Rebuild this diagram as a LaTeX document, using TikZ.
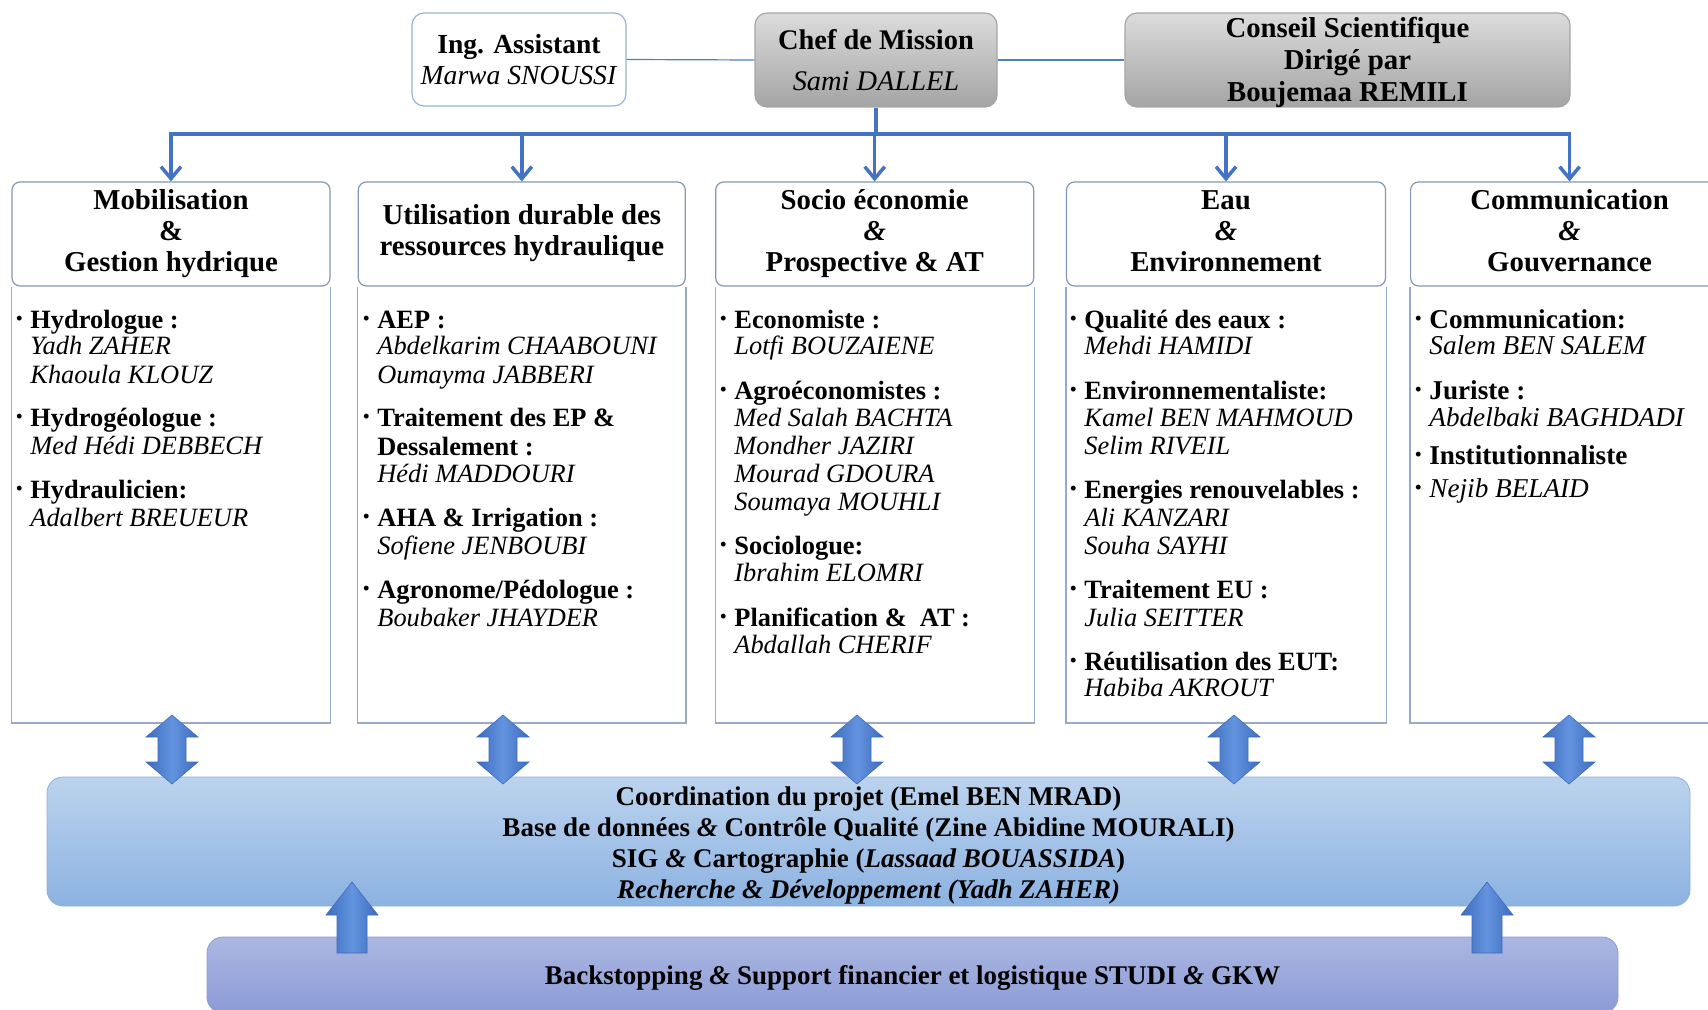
\documentclass[tikz,border=0pt]{standalone}
\usepackage{fontspec}
\setmainfont{Liberation Serif}
\usetikzlibrary{arrows.meta}

\definecolor{busblue}{HTML}{4472C4}
\definecolor{linkblue}{HTML}{4F81BD}
\definecolor{ingedge}{HTML}{95B3D7}
\definecolor{grayedge}{HTML}{A6A6A6}
\definecolor{graytop}{HTML}{DCDCDC}
\definecolor{graybot}{HTML}{A4A4A4}
\definecolor{hdredge}{HTML}{8497B4}
\definecolor{bodyedge}{HTML}{98AAC6}
\definecolor{coordtop}{HTML}{BCD3EE}
\definecolor{coordbot}{HTML}{8CB2E1}
\definecolor{coordedge}{HTML}{8FB0DA}
\definecolor{basetop}{HTML}{ABB7E2}
\definecolor{basebot}{HTML}{8B9BD6}
\definecolor{baseedge}{HTML}{8C9BD2}
\definecolor{arrdark}{HTML}{3D6CBE}
\definecolor{arrlight}{HTML}{6394DE}

% bullet hanging to the left of a list entry
\newcommand\bul{\llap{{\fontsize{15}{15}\selectfont\bfseries ·}\hspace{3pt}}}

\begin{document}
\begin{tikzpicture}[x=0.5pt,y=-0.5pt,
  topbox/.style={rounded corners=6pt, align=center, inner sep=0pt, line width=0.6pt},
  hdr/.style={draw=hdredge, rounded corners=4pt, fill=white, align=center, inner sep=0pt,
    line width=0.6pt, minimum height=52pt, font=\bfseries\fontsize{14.4}{15.5}\selectfont},
  bodyframe/.style={draw=bodyedge, line width=0.6pt},
  busline/.style={draw=busblue, line width=1.75pt},
  bustip/.style={-{Straight Barb[length=6pt,width=10pt]}},
  link/.style={draw=linkblue, line width=0.6pt},
  bodytxt/.style={anchor=base west, inner sep=0pt, font=\fontsize{13.2}{15}\selectfont},
  blockarrow/.style={left color=arrdark, right color=arrdark, middle color=arrlight,
    draw=arrdark, line width=0.3pt},
  updown/.pic={\shade[blockarrow] (0,-34.5) -- (26,-12.5) -- (14,-12.5) -- (14,12.5)
    -- (26,12.5) -- (0,34.5) -- (-26,12.5) -- (-14,12.5) -- (-14,-12.5) -- (-26,-12.5) -- cycle;},
  uparrow/.pic={\shade[blockarrow] (0,0) -- (26,33) -- (15,33) -- (15,71) -- (-15,71)
    -- (-15,33) -- (-26,33) -- cycle;}
]
\useasboundingbox (0,0) rectangle (1708,1010);
\clip (0,0) rectangle (1708,1010);
\fill[white] (0,0) rectangle (1708,1010);

% management row
\node[topbox, draw=ingedge, fill=white, minimum width=107pt, minimum height=46.5pt,
  font=\fontsize{13.8}{15.2}\selectfont] (ing) at (519,59.5)
  {\textbf{Ing. Assistant}\\\textit{Marwa SNOUSSI}};
\node[topbox, draw=grayedge, top color=graytop, bottom color=graybot,
  minimum width=121pt, minimum height=47pt,
  font=\fontsize{14.2}{20.2}\selectfont] (chef) at (876,60)
  {\textbf{Chef de Mission}\\\textit{Sami DALLEL}};
\node[topbox, draw=grayedge, top color=graytop, bottom color=graybot,
  minimum width=222.5pt, minimum height=47pt] (cons) at (1347.5,60) {};
\node[inner sep=0pt, align=center, font=\bfseries\fontsize{14.4}{16}\selectfont,
  yshift=-1pt] (constxt) at (cons.center)
  {Conseil Scientifique\\Dirigé par\\Boujemaa REMILI};
\draw[link] (ing.east) -- (chef.west);
\draw[link] (chef.east) -- (cons.west);

% thematic columns: headers
\node[hdr, minimum width=159pt] (h1) at (171,234) {\strut Mobilisation\\\&\\Gestion hydrique\strut};
\node[hdr, minimum width=163.5pt] (h2) at (521.8,234) {\strut Utilisation durable des\\ressources hydraulique\strut};
\node[hdr, minimum width=159pt] (h3) at (874.7,234) {\strut Socio économie\\\textit{\&}\\Prospective \& AT\strut};
\node[hdr, minimum width=159.5pt] (h4) at (1226,234) {\strut Eau\\\textit{\&}\\Environnement\strut};
\node[hdr, minimum width=159pt] (h5) at (1569.6,234) {\strut Communication\\\textit{\&}\\Gouvernance\strut};

% thematic columns: bodies
\coordinate (bot) at (0,723);
\foreach \h in {h1,h2,h3,h4,h5}
  \draw[bodyframe] (\h.south west) -- (\h.south west |- bot) -- (\h.south east |- bot) -- (\h.south east);

% distribution bus from the mission head
\coordinate (bus) at (876,134);
\draw[busline] (chef.south) -- (bus);
\draw[busline, line cap=rect] (h1.north |- bus) -- (h5.north |- bus);
\foreach \h in {h1,h2,h3,h4,h5}
  \draw[busline, bustip] (\h.north |- bus) -- (\h.north);

% staff lists
\foreach \yy/\cellt [count=\i] in {
  329/{\bul\textbf{Hydrologue :}},
  355/{\textit{Yadh ZAHER}},
  384/{\textit{Khaoula KLOUZ}},
  427/{\bul\textbf{Hydrogéologue :}},
  455/{\textit{Med Hédi DEBBECH}},
  499/{\bul\textbf{Hydraulicien:}},
  526/{\textit{Adalbert BREUEUR}}}
  \node[bodytxt] (ca-\i) at (30,\yy) {\cellt};

\foreach \yy/\cellt [count=\i] in {
  329/{\bul\textbf{AEP :}},
  355/{\textit{Abdelkarim CHAABOUNI}},
  384/{\textit{Oumayma JABBERI}},
  427/{\bul\textbf{Traitement des EP \&}},
  456/{\textbf{Dessalement :}},
  482/{\textit{Hédi MADDOURI}},
  526/{\bul\textbf{AHA \& Irrigation :}},
  554/{\textit{Sofiene JENBOUBI}},
  598/{\bul\textbf{Agronome/Pédologue :}},
  626/{\textit{Boubaker JHAYDER}}}
  \node[bodytxt] (cb-\i) at (377,\yy) {\cellt};

\foreach \yy/\cellt [count=\i] in {
  329/{\bul\textbf{Economiste :}},
  355/{\textit{Lotfi BOUZAIENE}},
  400/{\bul\textbf{Agroéconomistes :}},
  427/{\textit{Med Salah BACHTA}},
  455/{\textit{Mondher JAZIRI}},
  482/{\textit{Mourad GDOURA}},
  510/{\textit{Soumaya MOUHLI}},
  554/{\bul\textbf{Sociologue:}},
  581/{\textit{Ibrahim ELOMRI}},
  626/{\bul\textbf{Planification \&\ \ AT :}},
  653/{\textit{Abdallah CHERIF}}}
  \node[bodytxt] (cc-\i) at (734,\yy) {\cellt};

\foreach \yy/\cellt [count=\i] in {
  329/{\bul\textbf{Qualité des eaux :}},
  355/{\textit{Mehdi HAMIDI}},
  400/{\bul\textbf{Environnementaliste:}},
  427/{\textit{Kamel BEN MAHMOUD}},
  455/{\textit{Selim RIVEIL}},
  499/{\bul\textbf{Energies renouvelables :}},
  526/{\textit{Ali KANZARI}},
  554/{\textit{Souha SAYHI}},
  598/{\bul\textbf{Traitement EU :}},
  626/{\textit{Julia SEITTER}},
  670/{\bul\textbf{Réutilisation des EUT:}},
  696/{\textit{Habiba AKROUT}}}
  \node[bodytxt] (cd-\i) at (1084,\yy) {\cellt};

\foreach \yy/\cellt [count=\i] in {
  329/{\bul\textbf{Communication:}},
  355/{\textit{Salem BEN SALEM}},
  400/{\bul\textbf{Juriste :}},
  427/{\textit{Abdelbaki BAGHDADI}},
  465/{\bul\textbf{Institutionnaliste}},
  497/{\bul\textit{Nejib BELAID}}}
  \node[bodytxt, font=\fontsize{13.6}{15}\selectfont] (ce-\i) at (1429,\yy) {\cellt};

% coordination and support bands
\node[draw=coordedge, top color=coordtop, bottom color=coordbot, rounded corners=8pt,
  minimum width=821.5pt, minimum height=64.5pt, inner sep=0pt] (coord) at (868.5,841.5) {};
\node[inner sep=0pt, align=center, font=\bfseries\fontsize{13.5}{15.35}\selectfont,
  yshift=-2pt] (coordtxt) at (coord.center)
  {Coordination du projet (Emel BEN MRAD)\\
   Base de données \textit{\&} Contrôle Qualité (Zine Abidine MOURALI)\\
   SIG \textit{\&} Cartographie (\textit{Lassaad BOUASSIDA})\\
   \textit{Recherche \& Développement (Yadh ZAHER)}};
\node[draw=baseedge, top color=basetop, bottom color=basebot, rounded corners=8pt,
  minimum width=705.5pt, minimum height=38pt, inner sep=0pt] (base) at (912.5,975) {};
\node[inner sep=0pt, font=\bfseries\fontsize{13.5}{15}\selectfont, yshift=-1.5pt]
  (basetxt) at (base.center)
  {Backstopping \textit{\&} Support financier et logistique STUDI \textit{\&} GKW};

% exchange arrows between columns and coordination
\foreach \xx in {172,503,857,1234,1569}
  \pic at (\xx,749.5) {updown};
% support arrows
\pic at (352,882) {uparrow};
\pic at (1487,882) {uparrow};
\end{tikzpicture}
\end{document}
